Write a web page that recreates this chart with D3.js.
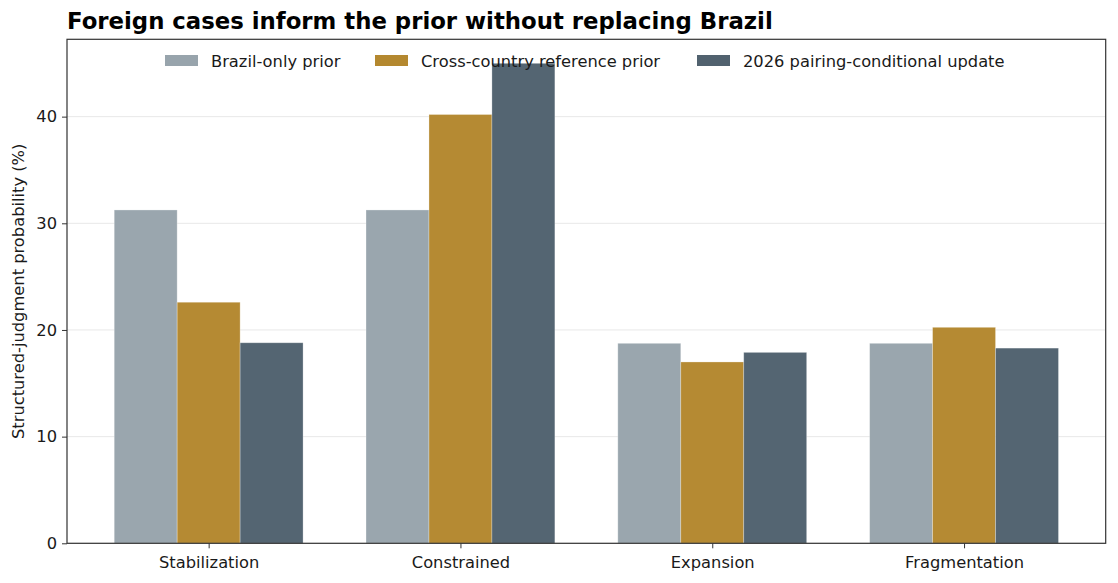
<!DOCTYPE html>
<html>
<head>
<meta charset="utf-8">
<script src="https://cdn.jsdelivr.net/npm/d3@7"></script>
<style>
  body { margin: 0; background: #fff; }
  text { font-family: "DejaVu Sans", sans-serif; fill: #1a1a1a; }
</style>
</head>
<body>
<script>
var categories = ["Stabilization", "Constrained", "Expansion", "Fragmentation"];
var seriesNames = ["Brazil-only prior", "Cross-country reference prior", "2026 pairing-conditional update"];
var brazilOnly = [31.25, 31.25, 18.75, 18.75];
var crossCountry = [22.6, 40.2, 17.0, 20.25];
var pairingUpdate = [18.8, 45.0, 17.9, 18.3];
var yTicks = [0, 10, 20, 30, 40];
var colors = ["#98a4ac", "#b4882f", "#51626f"];

var W = 1118, H = 583;
var margin = {left: 67, right: 12.3, top: 39.3, bottom: 39.7};
var width = W - margin.left - margin.right;
var height = H - margin.top - margin.bottom;

var series = [brazilOnly, crossCountry, pairingUpdate];
var barW = 0.25;

var x = d3.scaleLinear()
  .domain([-0.5625, categories.length - 1 + 0.5625])
  .range([0, width]);

var y = d3.scaleLinear()
  .domain([0, d3.max(pairingUpdate) * 1.05])
  .range([height, 0]);

var svg = d3.select("body").append("svg").attr("width", W).attr("height", H);

svg.append("text")
  .attr("x", margin.left).attr("y", 29)
  .style("font-size", "22.8px").style("font-weight", "bold").style("fill", "#000")
  .text("Foreign cases inform the prior without replacing Brazil");

var g = svg.append("g").attr("transform", "translate(" + margin.left + "," + margin.top + ")");

// grid
g.append("g").selectAll("line").data(yTicks).enter().append("line")
  .attr("x1", 0).attr("x2", width)
  .attr("y1", function(d){ return y(d); }).attr("y2", function(d){ return y(d); })
  .attr("stroke", "#e8e8e8").attr("stroke-width", 1);

// bars
series.forEach(function(vals, j){
  g.append("g").selectAll("rect").data(vals).enter().append("rect")
    .attr("x", function(d, i){ return x(i + (j - 1) * barW - barW / 2); })
    .attr("width", x(barW) - x(0))
    .attr("y", function(d){ return y(d); })
    .attr("height", function(d){ return y(0) - y(d); })
    .attr("fill", colors[j]).attr("fill-opacity", 0.98)
    .attr("stroke", "#ffffff").attr("stroke-opacity", 0.35).attr("stroke-width", 0.8);
});

// axes
var yAxis = d3.axisLeft(y).tickValues(yTicks).tickSize(5).tickPadding(5);
var xAxis = d3.axisBottom(x).tickValues(d3.range(categories.length))
  .tickFormat(function(d){ return categories[d]; }).tickSize(5).tickPadding(8);

var ya = g.append("g").call(yAxis);
var xa = g.append("g").attr("transform", "translate(0," + height + ")").call(xAxis);
[ya, xa].forEach(function(a){
  a.select(".domain").remove();
  a.selectAll("line").attr("stroke", "#333");
  a.selectAll("text").style("font-size", "16.3px").style("fill", "#1a1a1a")
    .style("font-family", "DejaVu Sans, sans-serif");
});

// frame
g.append("rect").attr("width", width).attr("height", height)
  .attr("fill", "none").attr("stroke", "#333").attr("stroke-width", 1.2);

svg.append("text")
  .attr("transform", "translate(24," + (margin.top + height / 2) + ") rotate(-90)")
  .attr("text-anchor", "middle")
  .style("font-size", "16.3px")
  .text("Structured-judgment probability (%)");

// legend
var legendX = [165, 375, 697];
var leg = svg.append("g").selectAll("g").data(seriesNames).enter().append("g")
  .attr("transform", function(d, i){ return "translate(" + legendX[i] + ",55)"; });
leg.append("rect").attr("width", 33).attr("height", 11)
  .attr("fill", function(d, i){ return colors[i]; });
leg.append("text").attr("x", 46).attr("y", 11.5)
  .style("font-size", "16.3px").text(function(d){ return d; });
</script>
</body>
</html>
